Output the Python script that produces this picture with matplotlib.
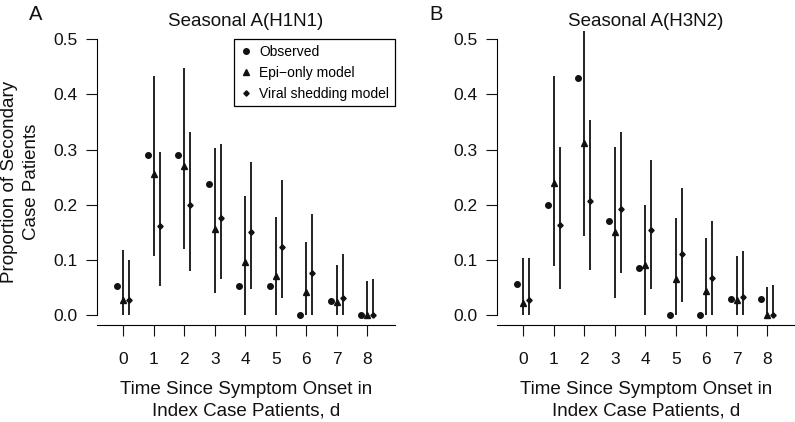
import matplotlib
matplotlib.use("Agg")
import matplotlib.pyplot as plt
from matplotlib.lines import Line2D
import numpy as np

plt.rcParams['font.family'] = ['Liberation Sans', 'DejaVu Sans']

days = [0, 1, 2, 3, 4, 5, 6, 7, 8]

h1_obs = [0.053, 0.29, 0.29, 0.237, 0.053, 0.053, 0.0, 0.026, 0.0]
h1_epi = [0.028, 0.256, 0.270, 0.156, 0.097, 0.071, 0.042, 0.024, 0.0]
h1_epi_lo = [0.0, 0.107, 0.119, 0.040, 0.0, 0.0, 0.0, 0.0, 0.0]
h1_epi_hi = [0.118, 0.433, 0.448, 0.302, 0.216, 0.178, 0.132, 0.091, 0.062]
h1_vir = [0.028, 0.161, 0.199, 0.176, 0.150, 0.124, 0.077, 0.031, 0.0]
h1_vir_lo = [0.0, 0.053, 0.080, 0.066, 0.048, 0.030, 0.0, 0.0, 0.0]
h1_vir_hi = [0.100, 0.296, 0.332, 0.310, 0.278, 0.244, 0.183, 0.110, 0.066]

h3_obs = [0.057, 0.200, 0.429, 0.171, 0.086, 0.0, 0.0, 0.029, 0.029]
h3_epi = [0.022, 0.240, 0.312, 0.150, 0.091, 0.066, 0.044, 0.027, 0.0]
h3_epi_lo = [0.0, 0.088, 0.143, 0.030, 0.0, 0.0, 0.0, 0.0, 0.0]
h3_epi_hi = [0.104, 0.433, 0.515, 0.305, 0.199, 0.176, 0.139, 0.107, 0.051]
h3_vir = [0.028, 0.163, 0.207, 0.192, 0.155, 0.111, 0.068, 0.033, 0.0]
h3_vir_lo = [0.0, 0.048, 0.082, 0.076, 0.047, 0.024, 0.0, 0.0, 0.0]
h3_vir_hi = [0.104, 0.305, 0.353, 0.332, 0.281, 0.230, 0.171, 0.117, 0.054]

yticks = [0.0, 0.1, 0.2, 0.3, 0.4, 0.5]
ytick_labels = ["0.0", "0.1", "0.2", "0.3", "0.4", "0.5"]
titles = ["Seasonal A(H1N1)", "Seasonal A(H3N2)"]
letters = ["A", "B"]
legend_labels = ["Observed", "Epi\u2212only model", "Viral shedding model"]

W, H = 795, 422
fig = plt.figure(figsize=(W / 100, H / 100), dpi=100)

def axrect(left, top, right, bottom):
    return [left / W, 1 - bottom / H, (right - left) / W, (bottom - top) / H]

panels = [
    (96.7, (h1_obs, h1_epi, h1_epi_lo, h1_epi_hi, h1_vir, h1_vir_lo, h1_vir_hi)),
    (496.7, (h3_obs, h3_epi, h3_epi_lo, h3_epi_hi, h3_vir, h3_vir_lo, h3_vir_hi)),
]

col = '#111111'
off = 0.2
ms_obs, ms_epi, ms_vir = 4.0, 4.9, 2.7
for i, (left, data) in enumerate(panels):
    obs, epi, elo, ehi, vir, vlo, vhi = data
    ax = fig.add_axes(axrect(left, 39.3, left + 298.3, 325))
    ax.set_xlim(-0.872, 8.908)
    ax.set_ylim(-0.0181, 0.5)
    x = np.array(days, dtype=float)
    ax.vlines(x, elo, ehi, color=col, lw=1.3, clip_on=False)
    ax.vlines(x + off, vlo, vhi, color=col, lw=1.3, clip_on=False)
    ax.plot(x - off, obs, 'o', color=col, ms=ms_obs, clip_on=False, ls='none')
    ax.plot(x, epi, '^', color=col, ms=ms_epi, clip_on=False, ls='none')
    ax.plot(x + off, vir, 'D', color=col, ms=ms_vir, clip_on=False, ls='none')
    for s in ['top', 'right']:
        ax.spines[s].set_visible(False)
    ax.spines['left'].set_bounds(0, 0.5)
    ax.spines['left'].set_linewidth(0.8)
    ax.spines['bottom'].set_linewidth(0.8)
    ax.set_yticks(yticks)
    ax.set_yticklabels(ytick_labels)
    ax.set_xticks(days)
    ax.set_xticklabels([str(d) for d in days])
    ax.tick_params(axis='both', length=7.6, width=0.8, labelsize=12.5,
                   color=col, labelcolor=col)
    ax.tick_params(axis='y', pad=6)
    ax.tick_params(axis='x', pad=11.5)
    ax.set_facecolor('none')
    cx = left + 149.15
    fig.text(cx / W, 1 - 26 / H, titles[i], ha='center', va='baseline',
             fontsize=13.5, color=col)
    fig.text((left - 67.5) / W, 1 - 20 / H, letters[i], ha='left', va='baseline',
             fontsize=14.5, color=col)
    fig.text(cx / W, 1 - 394 / H, "Time Since Symptom Onset in", ha='center',
             va='baseline', fontsize=13.5, color=col)
    fig.text(cx / W, 1 - 415 / H, "Index Case Patients, d", ha='center',
             va='baseline', fontsize=13.5, color=col)
    if i == 0:
        handles = [
            Line2D([], [], marker='o', ls='none', color=col, ms=ms_obs),
            Line2D([], [], marker='^', ls='none', color=col, ms=ms_epi),
            Line2D([], [], marker='D', ls='none', color=col, ms=ms_vir),
        ]
        leg = ax.legend(handles, legend_labels, loc='upper right',
                        bbox_to_anchor=(1.0, 1.0), fontsize=10, frameon=True,
                        fancybox=False, edgecolor='black', framealpha=1,
                        borderaxespad=0, handlelength=0.8, handletextpad=0.6,
                        labelspacing=0.5, borderpad=0.4)
        leg.get_frame().set_linewidth(0.9)

fig.text(10 / W, 1 - 182 / H, "Proportion of Secondary", rotation=90,
         ha='center', va='center', fontsize=13.5, color=col)
fig.text(31 / W, 1 - 182 / H, "Case Patients", rotation=90,
         ha='center', va='center', fontsize=13.5, color=col)

fig.savefig("out.png", dpi=100)
